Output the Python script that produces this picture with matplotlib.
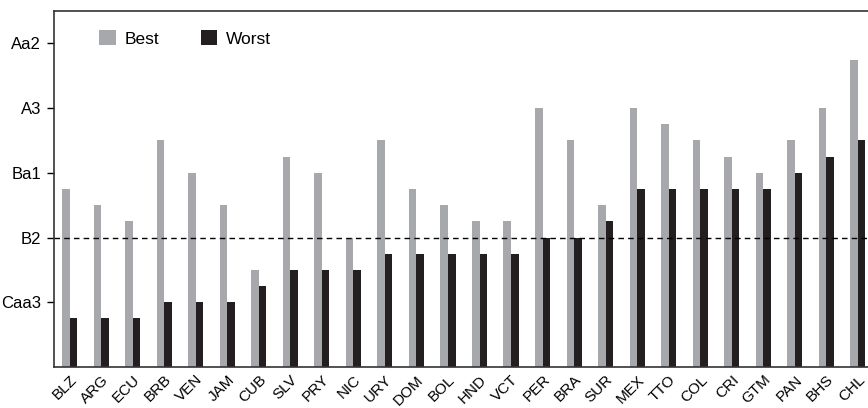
import matplotlib.pyplot as plt
import numpy as np

# rating scale as score: Caa3=4, B2=8, Ba1=12, A3=16, Aa2=20
countries = ['BLZ', 'ARG', 'ECU', 'BRB', 'VEN', 'JAM', 'CUB', 'SLV', 'PRY', 'NIC',
             'URY', 'DOM', 'BOL', 'HND', 'VCT', 'PER', 'BRA', 'SUR', 'MEX', 'TTO',
             'COL', 'CRI', 'GTM', 'PAN', 'BHS', 'CHL']
best = [11, 10, 9, 14, 12, 10, 6, 13, 12, 8,
        14, 11, 10, 9, 9, 16, 14, 10, 16, 15,
        14, 13, 12, 14, 16, 19]
worst = [3, 3, 3, 4, 4, 4, 5, 6, 6, 6,
         7, 7, 7, 7, 7, 8, 8, 9, 11, 11,
         11, 11, 11, 12, 13, 14]
tick_pos = [4, 8, 12, 16, 20]
tick_labels = ['Caa3', 'B2', 'Ba1', 'A3', 'Aa2']

plt.rcParams['font.family'] = ['Liberation Sans', 'DejaVu Sans']

fig = plt.figure(figsize=(8.68, 4.08), dpi=100)
ax = fig.add_axes([53.5 / 868, 1 - 367 / 408, 1 - 53.5 / 868, (367 - 11) / 408])

x = np.arange(len(countries))
w = 0.24
ax.bar(x - w / 2, best, w, color='#a7a8ab', label='Best')
ax.bar(x + w / 2, worst, w, color='#231f20', label='Worst')
ax.axhline(8, color='black', ls=(0, (4, 3)), lw=1)

ax.set_xlim(-0.51, 25.32)
ax.set_ylim(0, 22)
ax.set_yticks(tick_pos)
ax.set_yticklabels(tick_labels, fontsize=12)
ax.tick_params(axis='y', length=5, width=1, direction='out', pad=4)
ax.set_xticks(x)
ax.set_xticklabels(countries, rotation=45, ha='right', rotation_mode='anchor', fontsize=11)
ax.tick_params(axis='x', length=0, pad=4)
ax.spines['right'].set_visible(False)
for s in ['left', 'bottom', 'top']:
    ax.spines[s].set_color('#333333')
    ax.spines[s].set_linewidth(1.2)

ax.legend(loc='upper left', ncol=2, frameon=False, fontsize=12.5, bbox_to_anchor=(0.037, 0.99),
          handlelength=0.95, handleheight=0.95, columnspacing=2.4, handletextpad=0.5)

fig.savefig('out.png')
